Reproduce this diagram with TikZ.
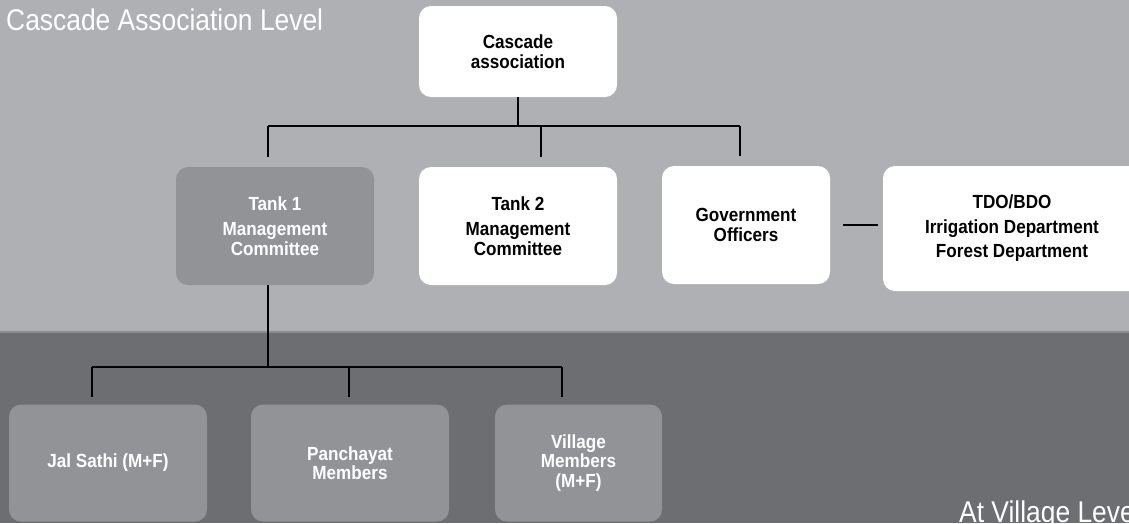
\documentclass[tikz,border=0pt]{standalone}
\usepackage{fontspec}
\setmainfont{Liberation Sans}
\newfontfamily\headfont[FakeStretch=0.88]{Liberation Sans}
\newfontfamily\boxface[FakeStretch=0.9]{Liberation Sans}
\begin{document}
\begin{tikzpicture}[x=1pt,y=-1pt,
  boxfont/.style={font=\boxface\fontsize{19}{19.5}\selectfont\bfseries},
  whitebox/.style={boxfont,fill=white,text=black,rounded corners=12pt,align=center,inner sep=0pt},
  greybox/.style={boxfont,fill=boxgrey,text=white,rounded corners=12pt,align=center,inner sep=0pt},
  link/.style={line width=2.6pt,draw=black},
  level/.style={font=\headfont\fontsize{30}{32}\selectfont,text=white,inner sep=0pt,anchor=base west}]
\definecolor{upperbg}{HTML}{AFB0B4}
\definecolor{lowerbg}{HTML}{6D6E72}
\definecolor{boxgrey}{HTML}{929397}
\definecolor{seam}{HTML}{8C8D91}

\useasboundingbox (0,0) rectangle (1129,523);
\clip (0,0) rectangle (1129,523);

% two background bands
\fill[upperbg] (0,0) rectangle (1129,332);
\fill[lowerbg] (0,332) rectangle (1129,523);
\fill[seam] (0,331) rectangle (1129,333);

% band titles
\node[level] (top) at (6,30) {Cascade Association Level};
\node[level] (bottom) at (959,522) {At Village Level};

% boxes
\node[whitebox,minimum width=198pt,minimum height=91pt] (casc) at (518,51.5) {Cascade\\association};
\node[greybox,minimum width=198pt,minimum height=118pt] (t1) at (275,226) {Tank 1\\[6pt]Management\\Committee};
\node[whitebox,minimum width=198pt,minimum height=118pt] (t2) at (518,226) {Tank 2\\[6pt]Management\\Committee};
\node[whitebox,minimum width=168pt,minimum height=118pt] (gov) at (746,225) {Government\\Officers};
\node[whitebox,minimum width=258pt,minimum height=125pt] (tdo) at (1012,228.5) {TDO/BDO\\[5pt]Irrigation Department\\[5pt]Forest Department};
\node[greybox,minimum width=198pt,minimum height=117pt] (jal) at (108,463) {Jal Sathi (M+F)};
\node[greybox,minimum width=198pt,minimum height=117pt] (pan) at (350,463) {Panchayat\\Members};
\node[greybox,minimum width=167pt,minimum height=117pt] (vil) at (578.5,463) {Village\\Members\\(M+F)};

% upper tree
\coordinate (busL) at (268,126);
\coordinate (busM) at (541,126);
\coordinate (busR) at (740,126);
\draw[link] (busL) -- (busR);
\draw[link] (casc.south) -- (casc.south |- busL);
\draw[link,shorten >=10pt] (busL) -- (busL |- t1.north);
\draw[link,shorten >=10pt] (busM) -- (busM |- t2.north);
\draw[link,shorten >=10pt] (busR) -- (busR |- gov.north);
\draw[link,shorten <=13pt,shorten >=5pt] (gov.east) -- (gov.east -| tdo.west);

% lower tree
\coordinate (stem) at (268,367);
\coordinate (lowL) at (92,367);
\coordinate (lowM) at (349,367);
\coordinate (lowR) at (562,367);
\draw[link] (t1.south -| stem) -- (stem);
\draw[link] (lowL) -- (lowR);
\draw[link,shorten >=7pt] (lowL) -- (lowL |- jal.north);
\draw[link,shorten >=7pt] (lowM) -- (lowM |- pan.north);
\draw[link,shorten >=7pt] (lowR) -- (lowR |- vil.north);
\end{tikzpicture}
\end{document}
